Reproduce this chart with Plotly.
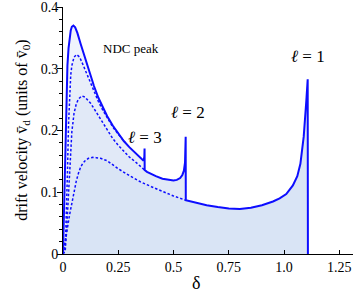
import numpy as np
import plotly.graph_objects as go

# ---- data ----
# full solid curve, part 1 (all l), up to the l=3 threshold spike
delta_all = [0, 0.004, 0.008, 0.012, 0.016, 0.02, 0.025, 0.03, 0.035, 0.04, 0.047, 0.055, 0.065,
             0.08, 0.09, 0.1, 0.12, 0.14, 0.16, 0.18, 0.2, 0.225, 0.25, 0.275, 0.3, 0.325, 0.35,
             0.362, 0.366, 0.368, 0.369]
v_all = [0, 0.07, 0.15, 0.22, 0.27, 0.305, 0.333, 0.351, 0.362, 0.368, 0.37, 0.367, 0.358,
         0.34, 0.328, 0.316, 0.293, 0.272, 0.253, 0.237, 0.223, 0.208, 0.195, 0.183, 0.173, 0.164, 0.156,
         0.152, 0.153, 0.158, 0.171]
# solid part 2 (l = 1,2) between l=3 and l=2 thresholds
delta_l12 = [0.3695, 0.38, 0.4, 0.42, 0.45, 0.48, 0.5, 0.515, 0.53, 0.54, 0.547, 0.552, 0.554, 0.555]
v_l12 = [0.136, 0.133, 0.129, 0.126, 0.122, 0.12, 0.119, 0.12, 0.123, 0.128, 0.135, 0.148, 0.165, 0.19]
# solid part 3 (l = 1) up to l=1 threshold
delta_l1 = [0.5555, 0.6, 0.65, 0.7, 0.75, 0.8, 0.85, 0.9, 0.95, 0.98, 1.01, 1.04, 1.06, 1.074,
            1.089, 1.101, 1.107, 1.108]
v_l1 = [0.087, 0.083, 0.079, 0.076, 0.0735, 0.073, 0.075, 0.079, 0.085, 0.09, 0.097, 0.111, 0.126, 0.146,
        0.19, 0.249, 0.283, 0.0]

# dashed curves
delta_A = [0, 0.008, 0.012, 0.016, 0.02, 0.025, 0.03, 0.035, 0.04, 0.05, 0.062, 0.075, 0.09, 0.1,
           0.12, 0.14, 0.16, 0.18, 0.2, 0.225, 0.25, 0.28]
v_A = [0, 0.005, 0.03, 0.07, 0.13, 0.21, 0.262, 0.29, 0.305, 0.319, 0.323, 0.319, 0.307, 0.298,
       0.28, 0.263, 0.247, 0.233, 0.22, 0.206, 0.194, 0.181]
delta_B = [0, 0.01, 0.015, 0.02, 0.025, 0.03, 0.035, 0.04, 0.05, 0.06, 0.07, 0.085, 0.1, 0.125, 0.15,
           0.175, 0.2, 0.225, 0.25, 0.275, 0.3, 0.325, 0.35, 0.3695]
v_B = [0, 0.005, 0.03, 0.065, 0.105, 0.145, 0.175, 0.198, 0.228, 0.243, 0.251, 0.256, 0.254, 0.244, 0.23,
       0.215, 0.2, 0.187, 0.176, 0.166, 0.157, 0.15, 0.142, 0.136]
delta_C = [0, 0.01, 0.02, 0.03, 0.04, 0.05, 0.06, 0.07, 0.08, 0.09, 0.1, 0.115, 0.135, 0.15, 0.17, 0.2,
           0.25, 0.3, 0.35, 0.4, 0.45, 0.5, 0.5555]
v_C = [0, 0.018, 0.042, 0.064, 0.083, 0.102, 0.118, 0.131, 0.141, 0.147, 0.151, 0.155, 0.1565, 0.156, 0.155, 0.151,
       0.138, 0.127, 0.117, 0.109, 0.101, 0.094, 0.087]

x_ticks = [0, 0.25, 0.5, 0.75, 1.0, 1.25]
x_ticktext = ["0", "0.25", "0.5", "0.75", "1.0", "1.25"]
y_ticks = [0, 0.1, 0.2, 0.3, 0.4]
y_ticktext = ["0", "0.1", "0.2", "0.3", "0.4"]

labels = ["NDC peak", "<i>ℓ</i> = 3", "<i>ℓ</i> = 2", "<i>ℓ</i> = 1"]
label_x = [0.309, 0.372, 0.565, 1.11]
label_y = [0.333, 0.189, 0.229, 0.32]

# ---- build curves ----
sx = np.array(delta_all + delta_l12 + delta_l1)
sy = np.array(v_all + v_l12 + v_l1)
mA = sx > delta_A[-1]
ax_f = np.concatenate([delta_A, sx[mA]]); ay_f = np.concatenate([v_A, sy[mA]])
bx_f = np.array(delta_B + delta_l12[1:] + delta_l1); by_f = np.array(v_B + v_l12[1:] + v_l1)
cx_f = np.array(delta_C + delta_l1[1:]); cy_f = np.array(v_C + v_l1[1:])

BLUE = "#0d0dff"
SERIF = "Liberation Serif, DejaVu Serif, serif"

fig = go.Figure()
for xs, ys, col in [(sx, sy, "#eff3fc"), (ax_f, ay_f, "#e8eef9"),
                    (bx_f, by_f, "#e1e9f7"), (cx_f, cy_f, "#d9e4f5")]:
    fig.add_trace(go.Scatter(x=xs, y=ys, mode="lines", line=dict(width=0, color=col),
                             fill="tozeroy", fillcolor=col, hoverinfo="skip"))
for xs, ys in [(delta_C, v_C), (delta_B, v_B), (delta_A, v_A)]:
    fig.add_trace(go.Scatter(x=xs, y=ys, mode="lines",
                             line=dict(color=BLUE, width=1.5, dash="2.5px,2px")))
fig.add_trace(go.Scatter(x=sx, y=sy, mode="lines", line=dict(color=BLUE, width=2)))

for t, x, y in zip(labels, label_x, label_y):
    fig.add_annotation(x=x, y=y, text=t, showarrow=False,
                       font=dict(family=SERIF, size=13 if t == "NDC peak" else 17, color="black"))

fig.add_annotation(x=0.6, y=-0.165, xref="x", yref="paper", text="δ", showarrow=False,
                   font=dict(family=SERIF, size=18, color="black"))
fig.add_annotation(x=-0.18, y=0.5, xref="paper", yref="paper", textangle=-90,
                   text="drift velocity v\u0304<sub>d</sub> (units of v\u0304<sub>0</sub>)",
                   showarrow=False, font=dict(family=SERIF, size=16, color="black"))

fig.update_layout(
    width=354, height=294, margin=dict(l=63, r=1, t=7, b=40),
    paper_bgcolor="white", plot_bgcolor="white", showlegend=False,
    xaxis=dict(range=[0, 1.312], tickvals=x_ticks, ticktext=x_ticktext, ticks="inside",
               ticklen=4, tickcolor="black", showline=True, linecolor="black", linewidth=1,
               showgrid=False, zeroline=False, ticklabeloverflow="allow",
               tickfont=dict(family=SERIF, size=14, color="black")),
    yaxis=dict(range=[0, 0.4], tickvals=y_ticks, ticktext=y_ticktext, ticks="outside",
               ticklen=5, tickcolor="black", showline=True, linecolor="black", linewidth=1,
               showgrid=False, zeroline=False, ticklabelstandoff=-4, ticklabeloverflow="allow",
               tickfont=dict(family=SERIF, size=14, color="black"),
               minor=dict(dtick=0.02, ticks="outside", ticklen=3, tickcolor="black", showgrid=False)),
)
fig.write_html("out.html", config={"displayModeBar": False},
               post_script="document.body.style.margin='0';")
